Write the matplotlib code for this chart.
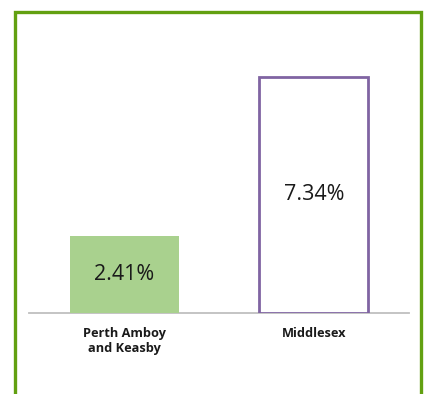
import matplotlib.pyplot as plt
from matplotlib.patches import Rectangle

# --- data ---
categories = ['Perth Amboy\nand Keasby', 'Middlesex']
values = [2.41, 7.34]
value_labels = ['2.41%', '7.34%']

W, H = 425, 394
fig = plt.figure(figsize=(W / 100, H / 100), dpi=100)

# axes placed in pixel terms: x 29..409, baseline y=313, top y=30
left, right, base, top = 29, 409, 313, 30
ax = fig.add_axes([left / W, 1 - base / H, (right - left) / W, (base - top) / H])

px_per_unit = (313 - 77) / values[1]
ax.set_ylim(0, (base - top) / px_per_unit)
ax.set_xlim(-0.504, 1.502)

x = range(len(categories))
ax.bar(x[0], values[0], width=0.575, color='#a9d18e', edgecolor='none')
ax.bar(x[1], values[1], width=0.575, color='white', edgecolor='#8064a2', linewidth=2.0)

for xi, v, lab in zip(x, values, value_labels):
    ax.text(xi, v / 2, lab, ha='center', va='center', fontsize=15.5,
            family='Open Sans', color='#1a1a1a')

for s in ['top', 'right', 'left']:
    ax.spines[s].set_visible(False)
ax.spines['bottom'].set_color('#bfbfbf')
ax.spines['bottom'].set_linewidth(1.3)
ax.spines['bottom'].set_zorder(0)
ax.set_yticks([])
ax.set_xticks(list(x))
ax.set_xticklabels(categories, fontsize=9.2, fontweight='bold', family='Open Sans',
                   color='#1a1a1a', linespacing=1.2)
ax.tick_params(axis='x', length=0, pad=10)

# green frame around the chart (bottom edge cut off)
fig.patches.append(Rectangle((14.8 / W, -0.05), (421 - 14.8) / W, 1 - 11.5 / H + 0.05,
                             transform=fig.transFigure, fill=False,
                             edgecolor='#62a011', linewidth=2.4))

fig.savefig('out.png', dpi=100)
